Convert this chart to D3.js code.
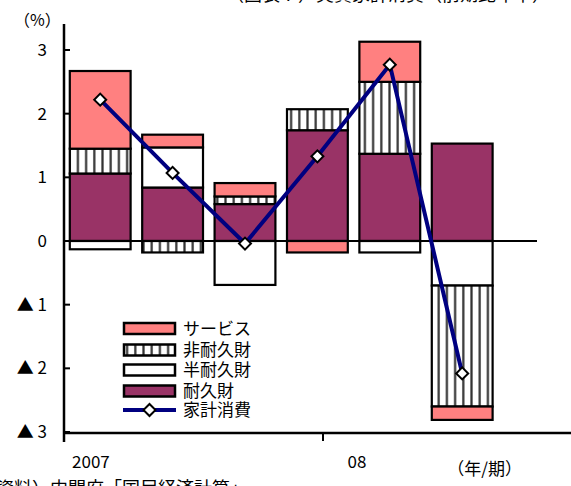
<!DOCTYPE html>
<html>
<head>
<meta charset="utf-8">
<script src="https://cdn.jsdelivr.net/npm/d3@7"></script>
<style>
  html, body { margin: 0; padding: 0; background: #fff; }
  svg { display: block; font-family: "Noto Sans CJK JP", "Noto Sans", sans-serif; }
</style>
</head>
<body>
<svg id="chart" width="571" height="486"></svg>
<script>
// Quarterly contributions to real household consumption growth (annualised, %)
const quarters    = ["2007Q1", "2007Q2", "2007Q3", "2007Q4", "2008Q1", "2008Q2"];
const durable     = [1.06, 0.84, 0.58, 1.74, 1.37, 1.53];
const semiDurable = [-0.13, 0.63, -0.69, 0.00, -0.18, -0.70];
const nonDurable  = [0.39, -0.18, 0.12, 0.33, 1.13, -1.90];
const services    = [1.22, 0.20, 0.21, -0.18, 0.63, -0.21];
const consumption = [2.22, 1.07, -0.04, 1.33, 2.77, -2.08];

const yTicks      = [3, 2, 1, 0, -1, -2, -3];
const yearTicks   = [2007, 2008];
const yearLabels  = ["2007", "08"];

const seriesKeys   = ["durable", "semiDurable", "nonDurable", "services"];
const seriesNames  = { durable: "耐久財", semiDurable: "半耐久財", nonDurable: "非耐久財", services: "サービス" };
const lineName     = "家計消費";

const rows = quarters.map((q, i) => ({
  quarter: q,
  durable: durable[i],
  semiDurable: semiDurable[i],
  nonDurable: nonDurable[i],
  services: services[i],
  total: consumption[i]
}));

const svg = d3.select("#chart");

// layout
const left = 64, zeroRight = 537, axisRight = 571;
const yTop = 50, yBottom = 432;

const y = d3.scaleLinear().domain([-3, 3]).range([yBottom, yTop]);
const x = d3.scaleBand().domain(quarters).range([left, left + 6 * 72.4]).paddingInner(0.16).paddingOuter(0.08);
const t = d3.scaleLinear().domain([2007, 2009]).range([left, left + 2 * 259]);

// fills
const defs = svg.append("defs");
const pat = defs.append("pattern")
  .attr("id", "vstripe").attr("patternUnits", "userSpaceOnUse")
  .attr("width", 8.2).attr("height", 8);
pat.append("rect").attr("width", 8.2).attr("height", 8).attr("fill", "#fff");
pat.append("rect").attr("x", 3).attr("width", 2.2).attr("height", 8).attr("fill", "#333");

const fills = {
  durable: "#993366",
  semiDurable: "#ffffff",
  nonDurable: "url(#vstripe)",
  services: "#ff8080"
};

// title (top of page)
svg.append("text")
  .attr("x", 226).attr("y", 1)
  .attr("font-size", 18)
  .attr("fill", "#000")
  .text("（図表７）実質家計消費（前期比年率）");

// stacked bars
const stack = d3.stack().keys(seriesKeys).offset(d3.stackOffsetDiverging);
const layers = stack(rows);

const layerG = svg.append("g").selectAll("g")
  .data(layers).join("g")
  .attr("fill", d => fills[d.key]);

layerG.selectAll("rect")
  .data(d => d.filter(s => Math.abs(s[1] - s[0]) > 1e-9))
  .join("rect")
  .attr("x", d => x(d.data.quarter))
  .attr("width", x.bandwidth())
  .attr("y", d => y(Math.max(d[0], d[1])))
  .attr("height", d => Math.abs(y(d[0]) - y(d[1])))
  .attr("stroke", "#000")
  .attr("stroke-width", 2.2);

// zero line
svg.append("line")
  .attr("x1", left).attr("x2", zeroRight)
  .attr("y1", y(0)).attr("y2", y(0))
  .attr("stroke", "#000").attr("stroke-width", 2);

// y axis
const yAxis = svg.append("g");
yAxis.append("line")
  .attr("x1", left).attr("x2", left)
  .attr("y1", 24).attr("y2", yBottom + 10)
  .attr("stroke", "#000").attr("stroke-width", 2.5);
yAxis.selectAll("line.tick").data(yTicks).join("line")
  .attr("class", "tick")
  .attr("x1", left).attr("x2", left + 6)
  .attr("y1", d => y(d)).attr("y2", d => y(d))
  .attr("stroke", "#000").attr("stroke-width", 2);
yAxis.selectAll("text").data(yTicks).join("text")
  .attr("x", 47).attr("y", d => y(d))
  .attr("dy", "0.36em")
  .attr("text-anchor", "end")
  .attr("font-size", 17)
  .text(d => d < 0 ? "▲ " + Math.abs(d) : String(d));

svg.append("text")
  .attr("x", 14).attr("y", 26)
  .attr("font-size", 16)
  .text("（%）");

// bottom (year) axis
svg.append("line")
  .attr("x1", left).attr("x2", axisRight)
  .attr("y1", yBottom + 1).attr("y2", yBottom + 1)
  .attr("stroke", "#000").attr("stroke-width", 2.5);
svg.selectAll("line.ytick").data(yearTicks.slice(1)).join("line")
  .attr("class", "ytick")
  .attr("x1", d => t(d)).attr("x2", d => t(d))
  .attr("y1", yBottom + 1).attr("y2", yBottom + 9)
  .attr("stroke", "#000").attr("stroke-width", 2);
svg.selectAll("text.year").data(yearTicks).join("text")
  .attr("class", "year")
  .attr("x", (d, i) => t(d + (i === 0 ? 0.104 : 0.131)))
  .attr("y", 468)
  .attr("text-anchor", "middle")
  .attr("font-size", 17)
  .text((d, i) => yearLabels[i]);
svg.append("text")
  .attr("x", 522).attr("y", 475)
  .attr("text-anchor", "end")
  .attr("font-size", 17)
  .text("（年/期）");

// source note
svg.append("text")
  .attr("x", -22).attr("y", 495)
  .attr("font-size", 18)
  .text("（資料）内閣府「国民経済計算」");

// household consumption line
const cx = d => x(d.quarter) + x.bandwidth() / 2;
svg.append("path")
  .datum(rows)
  .attr("fill", "none")
  .attr("stroke", "#000080")
  .attr("stroke-width", 4)
  .attr("d", d3.line().x(cx).y(d => y(d.total)));

const diamond = d3.symbol().type(d3.symbolSquare).size(72);
svg.selectAll("path.marker").data(rows).join("path")
  .attr("class", "marker")
  .attr("d", diamond)
  .attr("transform", d => `translate(${cx(d)},${y(d.total)}) rotate(45)`)
  .attr("fill", "#fff").attr("stroke", "#000").attr("stroke-width", 2);

// legend
const legendItems = ["services", "nonDurable", "semiDurable", "durable"];
const lg = svg.append("g");
const rowY = [328.5, 350, 370, 391, 410];
legendItems.forEach((k, i) => {
  lg.append("rect")
    .attr("x", 124).attr("y", rowY[i] - 5.5)
    .attr("width", 51).attr("height", 11)
    .attr("fill", fills[k]).attr("stroke", "#000").attr("stroke-width", 2.5);
  lg.append("text")
    .attr("x", 183).attr("y", rowY[i])
    .attr("dy", "0.36em")
    .attr("font-size", 17)
    .text(seriesNames[k]);
});
lg.append("line")
  .attr("x1", 123).attr("x2", 176)
  .attr("y1", rowY[4]).attr("y2", rowY[4])
  .attr("stroke", "#000080").attr("stroke-width", 4);
lg.append("path")
  .attr("d", diamond)
  .attr("transform", `translate(149.5,${rowY[4]}) rotate(45)`)
  .attr("fill", "#fff").attr("stroke", "#000").attr("stroke-width", 2);
lg.append("text")
  .attr("x", 183).attr("y", rowY[4])
  .attr("dy", "0.36em")
  .attr("font-size", 17)
  .text(lineName);
</script>
</body>
</html>
